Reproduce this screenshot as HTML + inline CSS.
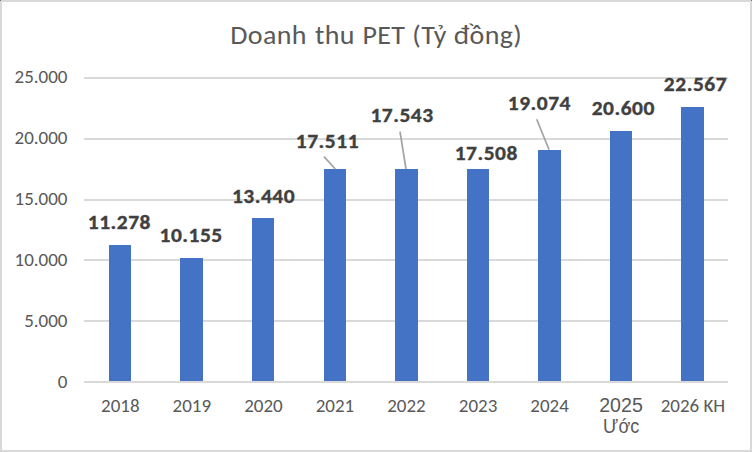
<!DOCTYPE html>
<html lang="vi"><head><meta charset="utf-8"><title>Doanh thu PET (Tỷ đồng)</title>
<style>
html,body{margin:0;padding:0;background:#fff;}
.wrap{position:relative;width:752px;height:452px;overflow:hidden;background:#fff;}
.frame{position:absolute;left:0;top:0;width:748px;height:448px;border:2px solid #d9d9d9;}
svg{position:absolute;left:0;top:0;}
.c{position:absolute;width:1px;height:1px;z-index:2;}
text{font-family:Carlito,"Liberation Sans",sans-serif;}
.ttl{font-size:27.4px;fill:#595959;letter-spacing:0.35px;}
.ax{font-size:19px;fill:#595959;}
.ax2{font-family:"Liberation Sans",Arial,sans-serif;font-size:19.6px;fill:#595959;}
.dl{font-size:20.6px;letter-spacing:0.5px;font-weight:bold;fill:#404040;stroke:#404040;stroke-width:0.35px;}
</style></head>
<body><div class="wrap"><div class="frame"></div><div class="c" style="left:0;top:0;background:#707070"></div><div class="c" style="right:0;top:0;background:#707070"></div><div class="c" style="left:0;bottom:0;background:#c8c8c8"></div><div class="c" style="right:0;bottom:0;background:#c8c8c8"></div>
<svg width="752" height="452" viewBox="0 0 752 452">
<text y="43.8" class="ttl"><tspan x="230.3" textLength="76.58" lengthAdjust="spacingAndGlyphs">Doanh</tspan> <tspan x="315" textLength="39.86" lengthAdjust="spacingAndGlyphs">thu</tspan> <tspan x="362.4" textLength="42.84" lengthAdjust="spacingAndGlyphs">PET</tspan> <tspan x="412.3" textLength="34.59" lengthAdjust="spacingAndGlyphs">(Tỷ</tspan> <tspan x="453.8" textLength="68.36" lengthAdjust="spacingAndGlyphs">đồng)</tspan></text>
<rect x="84" y="77" width="644" height="2" fill="#d9d9d9"/>
<rect x="84" y="138" width="644" height="2" fill="#d9d9d9"/>
<rect x="84" y="199" width="644" height="2" fill="#d9d9d9"/>
<rect x="84" y="259" width="644" height="2" fill="#d9d9d9"/>
<rect x="84" y="320" width="644" height="2" fill="#d9d9d9"/>
<text x="67.5" y="83.00" class="ax" text-anchor="end" textLength="52.95" lengthAdjust="spacingAndGlyphs">25.000</text>
<text x="67.5" y="143.80" class="ax" text-anchor="end" textLength="52.95" lengthAdjust="spacingAndGlyphs">20.000</text>
<text x="67.5" y="205.00" class="ax" text-anchor="end" textLength="52.95" lengthAdjust="spacingAndGlyphs">15.000</text>
<text x="67.5" y="266.40" class="ax" text-anchor="end" textLength="52.95" lengthAdjust="spacingAndGlyphs">10.000</text>
<text x="67.5" y="327.20" class="ax" text-anchor="end" textLength="43.33" lengthAdjust="spacingAndGlyphs">5.000</text>
<text x="67.5" y="388.00" class="ax" text-anchor="end" textLength="9.64" lengthAdjust="spacingAndGlyphs">0</text>
<rect x="109" y="245" width="22" height="136" fill="#4472c4"/>
<rect x="180" y="258" width="23" height="123" fill="#4472c4"/>
<rect x="252" y="218" width="22" height="163" fill="#4472c4"/>
<rect x="324" y="169" width="22" height="212" fill="#4472c4"/>
<rect x="395" y="169" width="23" height="212" fill="#4472c4"/>
<rect x="467" y="169" width="22" height="212" fill="#4472c4"/>
<rect x="538" y="150" width="23" height="231" fill="#4472c4"/>
<rect x="610" y="131" width="22" height="250" fill="#4472c4"/>
<rect x="681" y="107" width="23" height="274" fill="#4472c4"/>
<rect x="84" y="381" width="644" height="2" fill="#d9d9d9"/>
<line x1="324" y1="156.7" x2="335.3" y2="169" stroke="#a2a2a2" stroke-width="1.7"/>
<line x1="400" y1="131.6" x2="406" y2="169" stroke="#a2a2a2" stroke-width="1.7"/>
<line x1="536.7" y1="119.2" x2="549.1" y2="149.8" stroke="#a2a2a2" stroke-width="1.7"/>
<text x="119.40" y="229.10" class="dl" text-anchor="middle" textLength="63.23" lengthAdjust="spacingAndGlyphs">11.278</text>
<text x="191.10" y="242.30" class="dl" text-anchor="middle" textLength="63.23" lengthAdjust="spacingAndGlyphs">10.155</text>
<text x="263.55" y="202.50" class="dl" text-anchor="middle" textLength="63.23" lengthAdjust="spacingAndGlyphs">13.440</text>
<text x="327.45" y="147.70" class="dl" text-anchor="middle" textLength="63.23" lengthAdjust="spacingAndGlyphs">17.511</text>
<text x="402.05" y="121.70" class="dl" text-anchor="middle" textLength="63.23" lengthAdjust="spacingAndGlyphs">17.543</text>
<text x="486.30" y="159.50" class="dl" text-anchor="middle" textLength="63.23" lengthAdjust="spacingAndGlyphs">17.508</text>
<text x="539.35" y="109.50" class="dl" text-anchor="middle" textLength="63.23" lengthAdjust="spacingAndGlyphs">19.074</text>
<text x="623.30" y="114.80" class="dl" text-anchor="middle" textLength="63.23" lengthAdjust="spacingAndGlyphs">20.600</text>
<text x="695.50" y="91.40" class="dl" text-anchor="middle" textLength="63.23" lengthAdjust="spacingAndGlyphs">22.567</text>
<text x="120.28" y="411.8" class="ax" text-anchor="middle" textLength="38.53" lengthAdjust="spacingAndGlyphs">2018</text>
<text x="191.83" y="411.8" class="ax" text-anchor="middle" textLength="38.53" lengthAdjust="spacingAndGlyphs">2019</text>
<text x="263.39" y="411.8" class="ax" text-anchor="middle" textLength="38.53" lengthAdjust="spacingAndGlyphs">2020</text>
<text x="334.94" y="411.8" class="ax" text-anchor="middle" textLength="38.53" lengthAdjust="spacingAndGlyphs">2021</text>
<text x="406.50" y="411.8" class="ax" text-anchor="middle" textLength="38.53" lengthAdjust="spacingAndGlyphs">2022</text>
<text x="478.06" y="411.8" class="ax" text-anchor="middle" textLength="38.53" lengthAdjust="spacingAndGlyphs">2023</text>
<text x="549.61" y="411.8" class="ax" text-anchor="middle" textLength="38.53" lengthAdjust="spacingAndGlyphs">2024</text>
<text x="621" y="411.8" class="ax2" text-anchor="middle" textLength="43.59" lengthAdjust="spacingAndGlyphs">2025</text>
<text transform="translate(621.2 432.6) scale(0.92 1)" x="0" y="0" class="ax2" text-anchor="middle" textLength="39.39" lengthAdjust="spacingAndGlyphs">Ước</text>
<text x="692.92" y="411.8" class="ax" text-anchor="middle" textLength="64.53" lengthAdjust="spacingAndGlyphs">2026 KH</text>
</svg></div></body></html>
